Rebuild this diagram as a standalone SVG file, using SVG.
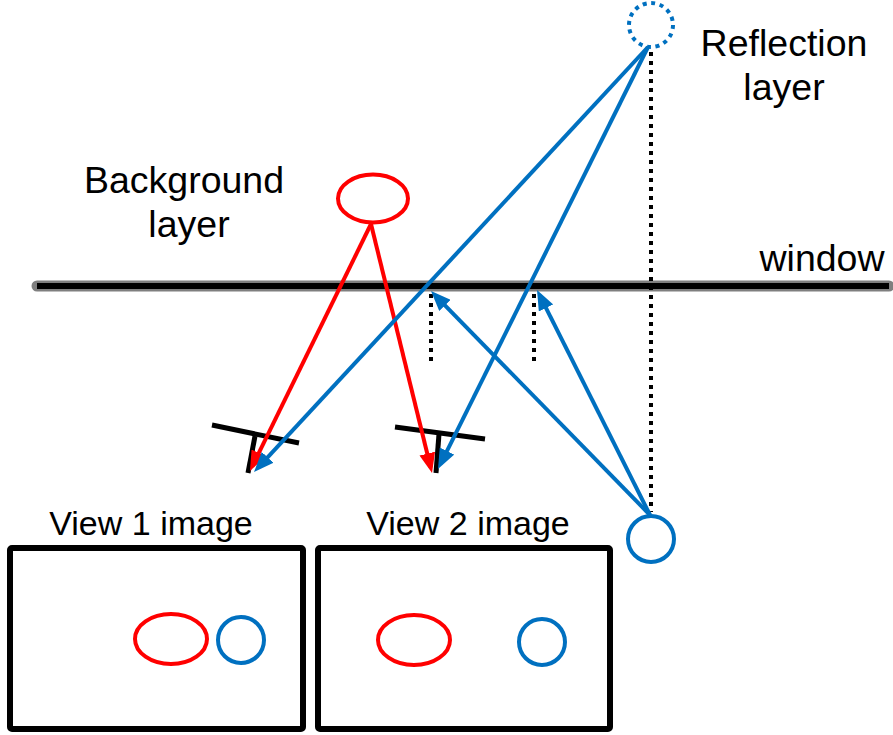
<svg xmlns="http://www.w3.org/2000/svg" width="893" height="735" viewBox="0 0 893 735">
<style>
.t{font-family:"Liberation Sans",Arial,sans-serif;font-size:37.5px;fill:#000;text-anchor:middle}
.r{fill:none;stroke:#FF0000;stroke-width:4}
.b{fill:none;stroke:#0070C0;stroke-width:4}
.k{fill:none;stroke:#000;stroke-width:5}
.dot{fill:none;stroke:#000;stroke-width:4;stroke-dasharray:4 5}
.box{fill:none;stroke:#000;stroke-width:6}
</style>
<defs>
<marker id="ar" markerUnits="userSpaceOnUse" markerWidth="20" markerHeight="16" viewBox="0 0 20 16" refX="14" refY="8" orient="auto"><path d="M0,0 L20,8 L0,16 z" fill="#FF0000"/></marker>
<marker id="ab" markerUnits="userSpaceOnUse" markerWidth="20" markerHeight="16" viewBox="0 0 20 16" refX="14" refY="8" orient="auto"><path d="M0,0 L20,8 L0,16 z" fill="#0070C0"/></marker>
</defs>
<g id="window">
<line x1="37" y1="286" x2="889" y2="286" stroke="#7f7f7f" stroke-width="11" stroke-linecap="round"/>
<line x1="37" y1="286" x2="889" y2="286" stroke="#000" stroke-width="6"/>
<text class="t" x="822" y="271">window</text>
</g>
<g id="reflection-layer">
<circle cx="651" cy="25" r="22" class="b" stroke-dasharray="4 4.6"/>
<text class="t" x="784" y="56">Reflection</text>
<text class="t" x="784" y="100">layer</text>
</g>
<g id="background-layer">
<ellipse cx="373" cy="198.5" rx="35" ry="24" class="r"/>
<text class="t" x="184" y="193">Background</text>
<text class="t" x="189" y="237">layer</text>
</g>
<g id="reflection-source">
<circle cx="651" cy="539" r="23" class="b"/>
</g>
<g id="camera1">
<line x1="212" y1="425" x2="299" y2="443" class="k"/>
<line x1="255" y1="436" x2="248" y2="473" class="k"/>
</g>
<g id="camera2">
<line x1="395" y1="427" x2="485" y2="439" class="k"/>
<line x1="439" y1="434" x2="436" y2="473" class="k"/>
</g>
<g id="view1">
<rect x="10" y="548" width="293" height="181" rx="2" class="box"/>
<ellipse cx="171" cy="639" rx="36" ry="25" class="r"/>
<circle cx="241" cy="640" r="23" class="b"/>
<text class="t" x="151" y="535" style="font-size:34px">View 1 image</text>
</g>
<g id="view2">
<rect x="318" y="548" width="292" height="181" rx="2" class="box"/>
<ellipse cx="414" cy="640" rx="36" ry="25" class="r"/>
<circle cx="542" cy="642" r="23" class="b"/>
<text class="t" x="468" y="535" style="font-size:34px">View 2 image</text>
</g>
<g id="connectors">
<line x1="651" y1="52" x2="651" y2="512" class="dot"/>
<line x1="431" y1="294" x2="431" y2="366" class="dot"/>
<line x1="534" y1="294" x2="534" y2="366" class="dot"/>
<line x1="371" y1="224" x2="252.6" y2="465.6" class="r" marker-end="url(#ar)"/>
<line x1="371" y1="224" x2="430.6" y2="467.2" class="r" marker-end="url(#ar)"/>
<line x1="648" y1="47" x2="258.1" y2="467.6" class="b" marker-end="url(#ab)"/>
<line x1="648" y1="47" x2="440.7" y2="463.6" class="b" marker-end="url(#ab)"/>
<line x1="650" y1="515" x2="435.2" y2="295.3" class="b" marker-end="url(#ab)"/>
<line x1="650" y1="515" x2="539.7" y2="295.4" class="b" marker-end="url(#ab)"/>
</g>
</svg>
